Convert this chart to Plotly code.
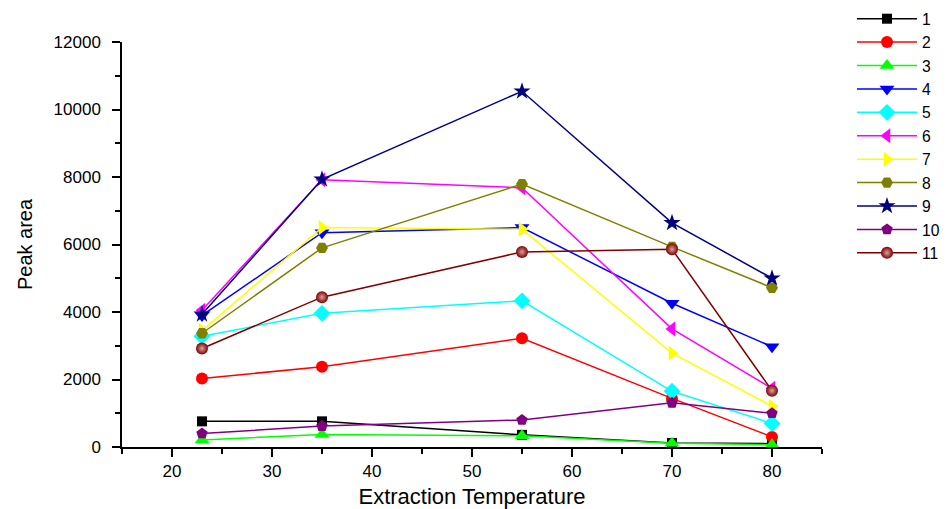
import plotly.graph_objects as go

temps = [23, 35, 55, 70, 80]
names = ["1", "2", "3", "4", "5", "6", "7", "8", "9", "10", "11"]
s1 = [760, 760, 360, 120, 100]
s2 = [2030, 2380, 3220, 1440, 300]
s3 = [210, 370, 330, 110, 70]
s4 = [3900, 6350, 6500, 4260, 2970]
s5 = [3280, 3960, 4330, 1650, 700]
s6 = [4050, 7920, 7680, 3500, 1740]
s7 = [3450, 6500, 6450, 2780, 1210]
s8 = [3370, 5900, 7790, 5930, 4720]
s9 = [3930, 7930, 10540, 6640, 5000]
s10 = [400, 620, 800, 1310, 1000]
s11 = [2920, 4440, 5780, 5860, 1670]
series = [s1, s2, s3, s4, s5, s6, s7, s8, s9, s10, s11]

colors = ["#000000", "#FF0000", "#00FF00", "#0000FF", "#00FFFF", "#FF00FF",
          "#FFFF00", "#808000", "#000080", "#800080", "#800000"]
symbols = ["square", "circle", "triangle-up", "triangle-down", "diamond",
           "triangle-left", "triangle-right", "hexagon2", "star", "pentagon", "circle"]
sizes = [10, 12, 13, 13, 13, 13, 13, 12, 13, 12, 12]

fig = go.Figure()
for i, (nm, ys) in enumerate(zip(names, series)):
    marker = dict(symbol=symbols[i], size=sizes[i], color=colors[i], line=dict(width=0))
    if i == 10:
        marker["gradient"] = dict(type="radial", color="#d9a0a0")
    fig.add_trace(go.Scatter(
        x=temps, y=ys, name=nm, mode="lines+markers",
        line=dict(color=colors[i], width=1.5),
        marker=marker, cliponaxis=False,
    ))

# page has an 8px body margin, so the figure is 942x501 placed at (8, 8)
W, H = 942, 501
L, T, R, B = 114, 34, 128, 62
plot_h = H - T - B

font_family = "Arial, Liberation Sans, sans-serif"
fig.update_layout(
    width=W, height=H,
    margin=dict(l=L, r=R, t=T, b=B, autoexpand=False),
    paper_bgcolor="white", plot_bgcolor="white",
    font=dict(family=font_family, color="black", size=16),
    showlegend=True,
    legend=dict(
        x=(852 - 8 - L) / (W - L - R), y=(H - B + 6) / plot_h, xanchor="left", yanchor="top",
        font=dict(size=15.7), itemwidth=60, bgcolor="rgba(0,0,0,0)",
        tracegroupgap=0, maxheight=0.95,
    ),
    xaxis=dict(
        range=[15, 85], dtick=10, tick0=0, showgrid=False, zeroline=False,
        showline=True, linecolor="black", linewidth=1.5,
        ticks="outside", ticklen=8, tickwidth=1.5, tickcolor="black",
        minor=dict(ticks="outside", ticklen=5, dtick=5, tick0=0, tickwidth=1.5, tickcolor="black"),
        tickfont=dict(size=17),
        title=dict(text="Extraction Temperature", font=dict(size=22), standoff=11),
    ),
    yaxis=dict(
        range=[0, 12000], dtick=2000, tickformat="d", showgrid=False, zeroline=False,
        showline=True, linecolor="black", linewidth=1.5,
        ticks="outside", ticklen=8, tickwidth=1.5, tickcolor="black",
        minor=dict(ticks="outside", ticklen=5, dtick=1000, tickwidth=1.5, tickcolor="black"),
        tickfont=dict(size=17), ticklabelstandoff=8,
        title=dict(text="Peak area", font=dict(size=20), standoff=16),
    ),
)

fig.write_html("out.html")
